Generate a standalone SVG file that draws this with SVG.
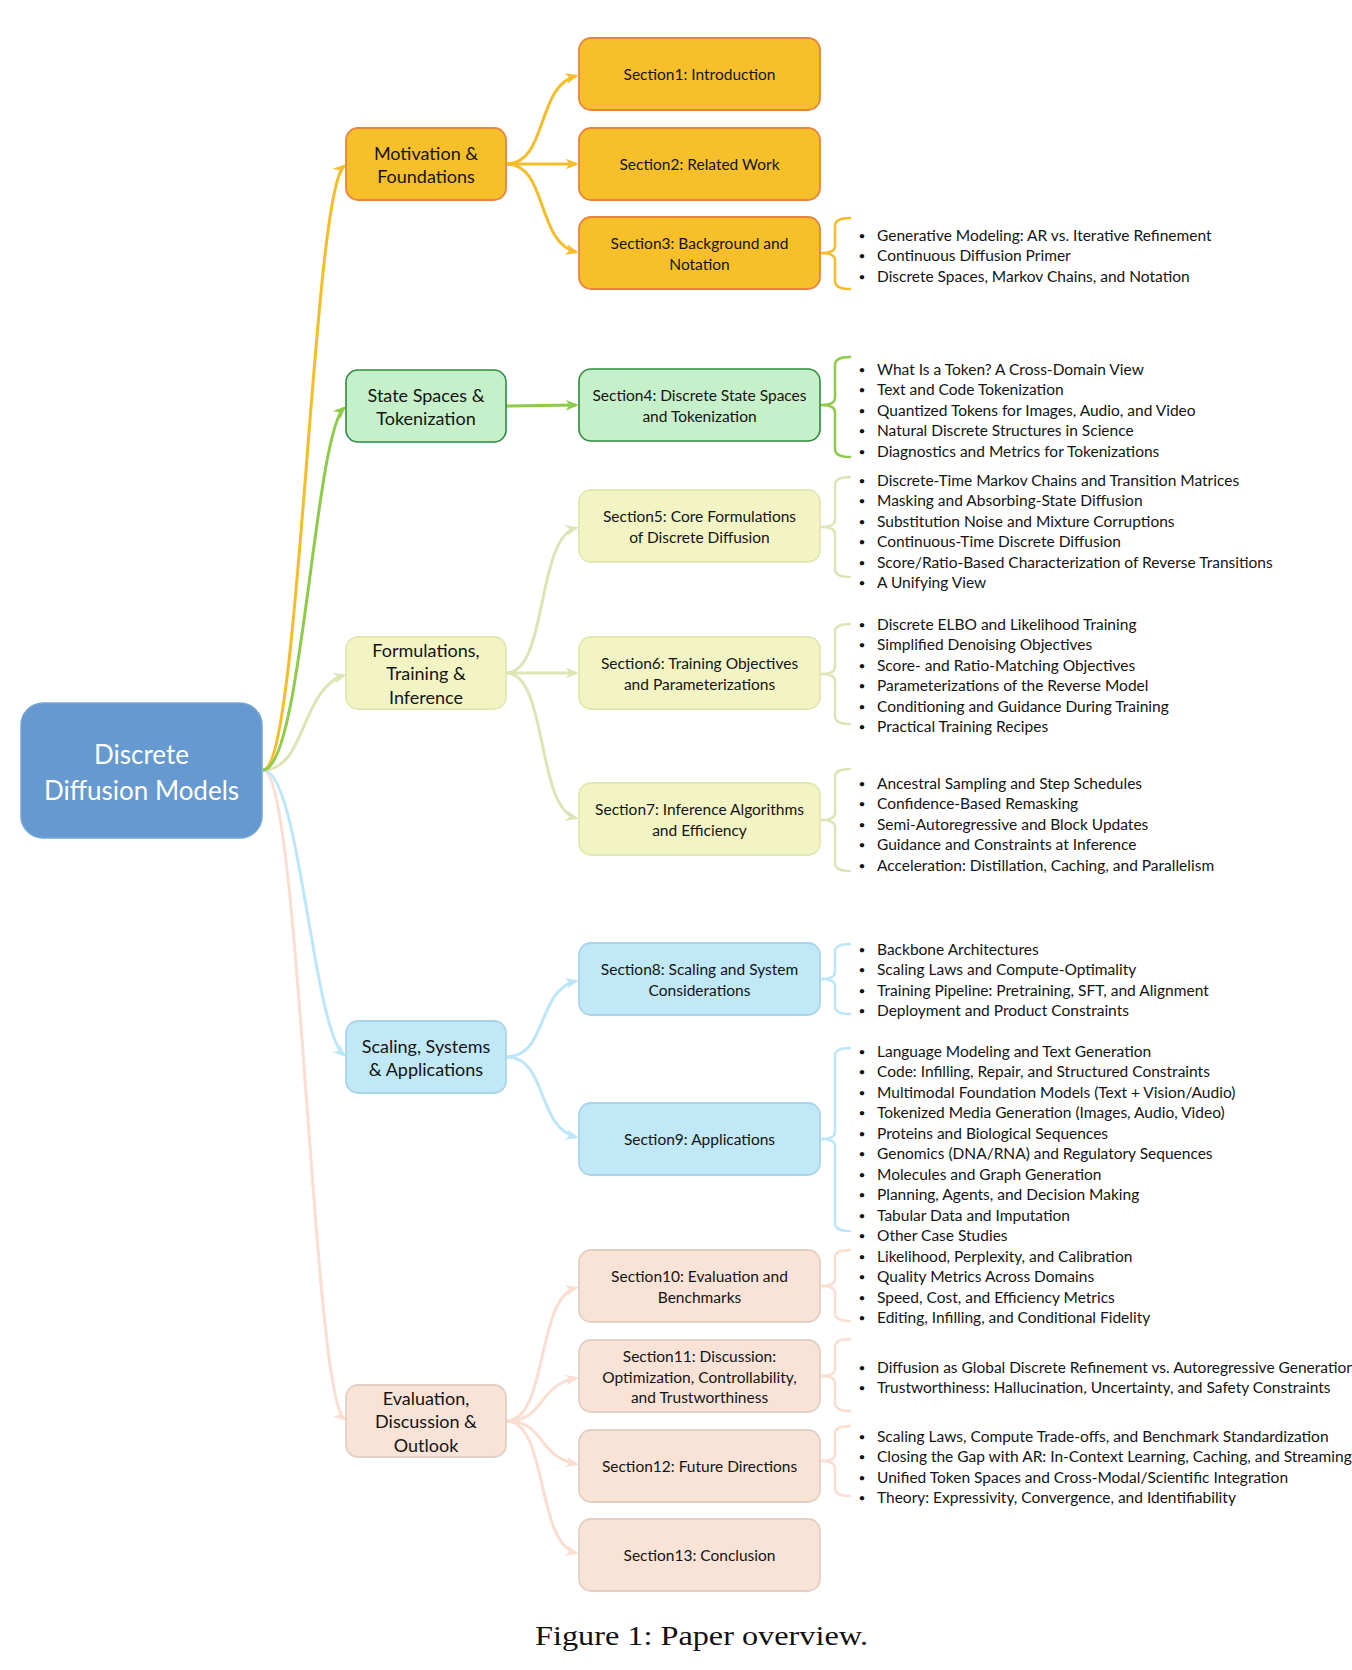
<svg xmlns="http://www.w3.org/2000/svg" width="1352" height="1670" viewBox="0 0 1352 1670">
<style>
text{font-family:Lato,"Open Sans","DejaVu Sans",sans-serif;fill:#141414;dominant-baseline:central}
.root text{fill:#fff;font-size:26px;text-anchor:middle}
.l1 text{font-size:18px;text-anchor:middle}
.l2 text{font-size:15.5px;text-anchor:middle}
.items text{font-size:15.5px}
.items text.b{text-anchor:middle;font-size:12px}
.c{fill:none;stroke-width:3}
.br{fill:none;stroke-width:2.5;stroke-linecap:round;stroke-linejoin:round}
.or .box{fill:#F7C02B;stroke:#E8843C;stroke-width:1.8}
.gr .box{fill:#C6F0C9;stroke:#2E8A3D;stroke-width:1.6}
.ol .box{fill:#F2F5C3;stroke:#E2E8B0;stroke-width:1.8}
.bl .box{fill:#C0E8F7;stroke:#A9D5E8;stroke-width:1.8}
.pe .box{fill:#F9E3D7;stroke:#E3D0C5;stroke-width:1.8}
.caption{font-family:"Liberation Serif","Times New Roman",serif;font-size:28px;fill:#111;dominant-baseline:auto}
</style>
<defs>
<marker id="aO" viewBox="0 0 12 10" refX="9.5" refY="5" markerWidth="13" markerHeight="11" markerUnits="userSpaceOnUse" orient="auto"><path d="M0,0 L12,5 L0,10 L3.5,5 z" fill="#F6BD2B"/></marker>
<marker id="aG" viewBox="0 0 12 10" refX="9.5" refY="5" markerWidth="13" markerHeight="11" markerUnits="userSpaceOnUse" orient="auto"><path d="M0,0 L12,5 L0,10 L3.5,5 z" fill="#8DCB48"/></marker>
<marker id="aL" viewBox="0 0 12 10" refX="9.5" refY="5" markerWidth="13" markerHeight="11" markerUnits="userSpaceOnUse" orient="auto"><path d="M0,0 L12,5 L0,10 L3.5,5 z" fill="#DFE4B6"/></marker>
<marker id="aB" viewBox="0 0 12 10" refX="9.5" refY="5" markerWidth="13" markerHeight="11" markerUnits="userSpaceOnUse" orient="auto"><path d="M0,0 L12,5 L0,10 L3.5,5 z" fill="#BDE7F8"/></marker>
<marker id="aP" viewBox="0 0 12 10" refX="9.5" refY="5" markerWidth="13" markerHeight="11" markerUnits="userSpaceOnUse" orient="auto"><path d="M0,0 L12,5 L0,10 L3.5,5 z" fill="#F9DED1"/></marker>
</defs>
<rect width="1352" height="1670" fill="#fff"/>

<g id="connectors">
<path class="c" stroke="#F9DED1" marker-end="url(#aP)" d="M263,770 C300,770 312,1391 344,1419"/>
<path class="c" stroke="#BDE7F8" marker-end="url(#aB)" d="M263,770 C300,770 312,1027 344,1055"/>
<path class="c" stroke="#DFE4B6" marker-end="url(#aL)" d="M263,770 C306,770 300,690 344,675"/>
<path class="c" stroke="#F6BD2B" marker-end="url(#aO)" d="M263,770 C300,770 312,194 344,166"/>
<path class="c" stroke="#8DCB48" marker-end="url(#aG)" d="M263,770 C302,770 314,436 344,408"/>

<path class="c" stroke="#F6BD2B" marker-end="url(#aO)" d="M506,164 C548,164 536,86 576,76"/>
<path class="c" stroke="#F6BD2B" marker-end="url(#aO)" d="M506,164 L576,164"/>
<path class="c" stroke="#F6BD2B" marker-end="url(#aO)" d="M506,164 C548,164 536,242 576,252"/>
<path class="c" stroke="#8DCB48" marker-end="url(#aG)" d="M506,406 L576,405"/>
<path class="c" stroke="#DFE4B6" marker-end="url(#aL)" d="M506,673 C548,673 536,538 576,528"/>
<path class="c" stroke="#DFE4B6" marker-end="url(#aL)" d="M506,673 L576,673"/>
<path class="c" stroke="#DFE4B6" marker-end="url(#aL)" d="M506,673 C548,673 536,808 576,818"/>
<path class="c" stroke="#BDE7F8" marker-end="url(#aB)" d="M506,1057 C548,1057 536,991 576,981"/>
<path class="c" stroke="#BDE7F8" marker-end="url(#aB)" d="M506,1057 C548,1057 536,1127 576,1137"/>
<path class="c" stroke="#F9DED1" marker-end="url(#aP)" d="M506,1421 C548,1421 536,1298 576,1288"/>
<path class="c" stroke="#F9DED1" marker-end="url(#aP)" d="M506,1421 C546,1421 536,1386 576,1378"/>
<path class="c" stroke="#F9DED1" marker-end="url(#aP)" d="M506,1421 C546,1421 536,1456 576,1464"/>
<path class="c" stroke="#F9DED1" marker-end="url(#aP)" d="M506,1421 C548,1421 536,1543 576,1553"/>

<path class="br" stroke="#F6BD2B" d="M850,218 Q835,218 835,226 L835,246 Q835,253 821,253 Q835,253 835,260 L835,281 Q835,289 850,289"/>
<path class="br" stroke="#8DCB48" d="M850,357 Q835,357 835,365 L835,398 Q835,405 821,405 Q835,405 835,412 L835,449 Q835,457 850,457"/>
<path class="br" stroke="#DFE4B6" d="M850,477 Q835,477 835,485 L835,520 Q835,527 821,527 Q835,527 835,534 L835,569 Q835,577 850,577"/>
<path class="br" stroke="#DFE4B6" d="M850,624 Q835,624 835,632 L835,667 Q835,674 821,674 Q835,674 835,681 L835,716 Q835,724 850,724"/>
<path class="br" stroke="#DFE4B6" d="M850,769 Q835,769 835,777 L835,813 Q835,820 821,820 Q835,820 835,827 L835,863 Q835,871 850,871"/>
<path class="br" stroke="#BDE7F8" d="M850,944 Q835,944 835,952 L835,972 Q835,979 821,979 Q835,979 835,986 L835,1006 Q835,1014 850,1014"/>
<path class="br" stroke="#BDE7F8" d="M850,1048 Q835,1048 835,1056 L835,1132 Q835,1139 821,1139 Q835,1139 835,1146 L835,1223 Q835,1231 850,1231"/>
<path class="br" stroke="#F9DED1" d="M850,1250 Q835,1250 835,1258 L835,1279 Q835,1286 821,1286 Q835,1286 835,1293 L835,1313 Q835,1321 850,1321"/>
<path class="br" stroke="#F9DED1" d="M850,1339 Q835,1339 835,1347 L835,1369 Q835,1376 821,1376 Q835,1376 835,1383 L835,1403 Q835,1411 850,1411"/>
<path class="br" stroke="#F9DED1" d="M850,1426 Q835,1426 835,1434 L835,1454 Q835,1461 821,1461 Q835,1461 835,1468 L835,1488 Q835,1496 850,1496"/>
</g>

<g id="root" class="root">
<rect x="21" y="703" width="241" height="135" rx="22" fill="#6699CF" stroke="#76A5D6" stroke-width="1.5"/>
<text x="141.5" y="754">Discrete</text>
<text x="141.5" y="790">Diffusion Models</text>
</g>

<g id="motivation" class="l1 or"><rect class="box" x="346" y="128" width="160" height="72" rx="12"/><text x="426" y="153">Motivation &amp;</text><text x="426" y="176">Foundations</text></g>
<g id="statespaces" class="l1 gr"><rect class="box" x="346" y="370" width="160" height="72" rx="12"/><text x="426" y="395">State Spaces &amp;</text><text x="426" y="418">Tokenization</text></g>
<g id="formulations" class="l1 ol"><rect class="box" x="346" y="637" width="160" height="72" rx="12"/><text x="426" y="650">Formulations,</text><text x="426" y="673">Training &amp;</text><text x="426" y="697">Inference</text></g>
<g id="scaling" class="l1 bl"><rect class="box" x="346" y="1021" width="160" height="72" rx="12"/><text x="426" y="1046">Scaling, Systems</text><text x="426" y="1069">&amp; Applications</text></g>
<g id="evaluation" class="l1 pe"><rect class="box" x="346" y="1385" width="160" height="72" rx="12"/><text x="426" y="1398">Evaluation,</text><text x="426" y="1421">Discussion &amp;</text><text x="426" y="1445">Outlook</text></g>

<g id="s1" class="l2 or"><rect class="box" x="579" y="38" width="241" height="72" rx="12"/><text x="699.5" y="74">Section1: Introduction</text></g>
<g id="s2" class="l2 or"><rect class="box" x="579" y="128" width="241" height="72" rx="12"/><text x="699.5" y="164">Section2: Related Work</text></g>
<g id="s3" class="l2 or"><rect class="box" x="579" y="217" width="241" height="72" rx="12"/><text x="699.5" y="243">Section3: Background and</text><text x="699.5" y="264">Notation</text></g>
<g id="s4" class="l2 gr"><rect class="box" x="579" y="369" width="241" height="72" rx="12"/><text x="699.5" y="395">Section4: Discrete State Spaces</text><text x="699.5" y="416">and Tokenization</text></g>
<g id="s5" class="l2 ol"><rect class="box" x="579" y="490" width="241" height="72" rx="12"/><text x="699.5" y="516">Section5: Core Formulations</text><text x="699.5" y="537">of Discrete Diffusion</text></g>
<g id="s6" class="l2 ol"><rect class="box" x="579" y="637" width="241" height="72" rx="12"/><text x="699.5" y="663">Section6: Training Objectives</text><text x="699.5" y="684">and Parameterizations</text></g>
<g id="s7" class="l2 ol"><rect class="box" x="579" y="783" width="241" height="72" rx="12"/><text x="699.5" y="809">Section7: Inference Algorithms</text><text x="699.5" y="830">and Efficiency</text></g>
<g id="s8" class="l2 bl"><rect class="box" x="579" y="943" width="241" height="72" rx="12"/><text x="699.5" y="969">Section8: Scaling and System</text><text x="699.5" y="990">Considerations</text></g>
<g id="s9" class="l2 bl"><rect class="box" x="579" y="1103" width="241" height="72" rx="12"/><text x="699.5" y="1139">Section9: Applications</text></g>
<g id="s10" class="l2 pe"><rect class="box" x="579" y="1250" width="241" height="72" rx="12"/><text x="699.5" y="1276">Section10: Evaluation and</text><text x="699.5" y="1297">Benchmarks</text></g>
<g id="s11" class="l2 pe"><rect class="box" x="579" y="1340" width="241" height="72" rx="12"/><text x="699.5" y="1356">Section11: Discussion:</text><text x="699.5" y="1377">Optimization, Controllability,</text><text x="699.5" y="1397">and Trustworthiness</text></g>
<g id="s12" class="l2 pe"><rect class="box" x="579" y="1430" width="241" height="72" rx="12"/><text x="699.5" y="1466">Section12: Future Directions</text></g>
<g id="s13" class="l2 pe"><rect class="box" x="579" y="1519" width="241" height="72" rx="12"/><text x="699.5" y="1555">Section13: Conclusion</text></g>

<g id="s3-items" class="items">
<text class="b" x="862" y="235">•</text><text x="877" y="234.5">Generative Modeling: AR vs. Iterative Refinement</text>
<text class="b" x="862" y="255.5">•</text><text x="877" y="255">Continuous Diffusion Primer</text>
<text class="b" x="862" y="276">•</text><text x="877" y="275.5">Discrete Spaces, Markov Chains, and Notation</text>
</g>
<g id="s4-items" class="items">
<text class="b" x="862" y="369">•</text><text x="877" y="368.5">What Is a Token? A Cross-Domain View</text>
<text class="b" x="862" y="389.5">•</text><text x="877" y="389">Text and Code Tokenization</text>
<text class="b" x="862" y="410">•</text><text x="877" y="409.5">Quantized Tokens for Images, Audio, and Video</text>
<text class="b" x="862" y="430.5">•</text><text x="877" y="430">Natural Discrete Structures in Science</text>
<text class="b" x="862" y="451">•</text><text x="877" y="450.5">Diagnostics and Metrics for Tokenizations</text>
</g>
<g id="s5-items" class="items">
<text class="b" x="862" y="480">•</text><text x="877" y="479.5">Discrete-Time Markov Chains and Transition Matrices</text>
<text class="b" x="862" y="500.5">•</text><text x="877" y="500">Masking and Absorbing-State Diffusion</text>
<text class="b" x="862" y="521">•</text><text x="877" y="520.5">Substitution Noise and Mixture Corruptions</text>
<text class="b" x="862" y="541.5">•</text><text x="877" y="541">Continuous-Time Discrete Diffusion</text>
<text class="b" x="862" y="562">•</text><text x="877" y="561.5">Score/Ratio-Based Characterization of Reverse Transitions</text>
<text class="b" x="862" y="582.5">•</text><text x="877" y="582">A Unifying View</text>
</g>
<g id="s6-items" class="items">
<text class="b" x="862" y="624">•</text><text x="877" y="623.5">Discrete ELBO and Likelihood Training</text>
<text class="b" x="862" y="644.5">•</text><text x="877" y="644">Simplified Denoising Objectives</text>
<text class="b" x="862" y="665">•</text><text x="877" y="664.5">Score- and Ratio-Matching Objectives</text>
<text class="b" x="862" y="685.5">•</text><text x="877" y="685">Parameterizations of the Reverse Model</text>
<text class="b" x="862" y="706">•</text><text x="877" y="705.5">Conditioning and Guidance During Training</text>
<text class="b" x="862" y="726.5">•</text><text x="877" y="726">Practical Training Recipes</text>
</g>
<g id="s7-items" class="items">
<text class="b" x="862" y="783">•</text><text x="877" y="782.5">Ancestral Sampling and Step Schedules</text>
<text class="b" x="862" y="803.5">•</text><text x="877" y="803">Confidence-Based Remasking</text>
<text class="b" x="862" y="824">•</text><text x="877" y="823.5">Semi-Autoregressive and Block Updates</text>
<text class="b" x="862" y="844.5">•</text><text x="877" y="844">Guidance and Constraints at Inference</text>
<text class="b" x="862" y="865">•</text><text x="877" y="864.5">Acceleration: Distillation, Caching, and Parallelism</text>
</g>
<g id="s8-items" class="items">
<text class="b" x="862" y="949">•</text><text x="877" y="948.5">Backbone Architectures</text>
<text class="b" x="862" y="969.5">•</text><text x="877" y="969">Scaling Laws and Compute-Optimality</text>
<text class="b" x="862" y="990">•</text><text x="877" y="989.5">Training Pipeline: Pretraining, SFT, and Alignment</text>
<text class="b" x="862" y="1010.5">•</text><text x="877" y="1010">Deployment and Product Constraints</text>
</g>
<g id="s9-items" class="items">
<text class="b" x="862" y="1051">•</text><text x="877" y="1050.5">Language Modeling and Text Generation</text>
<text class="b" x="862" y="1071.5">•</text><text x="877" y="1071">Code: Infilling, Repair, and Structured Constraints</text>
<text class="b" x="862" y="1092">•</text><text x="877" y="1091.5">Multimodal Foundation Models (Text + Vision/Audio)</text>
<text class="b" x="862" y="1112.5">•</text><text x="877" y="1112">Tokenized Media Generation (Images, Audio, Video)</text>
<text class="b" x="862" y="1133">•</text><text x="877" y="1132.5">Proteins and Biological Sequences</text>
<text class="b" x="862" y="1153.5">•</text><text x="877" y="1153">Genomics (DNA/RNA) and Regulatory Sequences</text>
<text class="b" x="862" y="1174">•</text><text x="877" y="1173.5">Molecules and Graph Generation</text>
<text class="b" x="862" y="1194.5">•</text><text x="877" y="1194">Planning, Agents, and Decision Making</text>
<text class="b" x="862" y="1215">•</text><text x="877" y="1214.5">Tabular Data and Imputation</text>
<text class="b" x="862" y="1235.5">•</text><text x="877" y="1235">Other Case Studies</text>
</g>
<g id="s10-items" class="items">
<text class="b" x="862" y="1256">•</text><text x="877" y="1255.5">Likelihood, Perplexity, and Calibration</text>
<text class="b" x="862" y="1276.5">•</text><text x="877" y="1276">Quality Metrics Across Domains</text>
<text class="b" x="862" y="1297">•</text><text x="877" y="1296.5">Speed, Cost, and Efficiency Metrics</text>
<text class="b" x="862" y="1317.5">•</text><text x="877" y="1317">Editing, Infilling, and Conditional Fidelity</text>
</g>
<g id="s11-items" class="items">
<text class="b" x="862" y="1367">•</text><text x="877" y="1366.5">Diffusion as Global Discrete Refinement vs. Autoregressive Generation</text>
<text class="b" x="862" y="1387.5">•</text><text x="877" y="1387">Trustworthiness: Hallucination, Uncertainty, and Safety Constraints</text>
</g>
<g id="s12-items" class="items">
<text class="b" x="862" y="1436">•</text><text x="877" y="1435.5">Scaling Laws, Compute Trade-offs, and Benchmark Standardization</text>
<text class="b" x="862" y="1456.5">•</text><text x="877" y="1456">Closing the Gap with AR: In-Context Learning, Caching, and Streaming</text>
<text class="b" x="862" y="1477">•</text><text x="877" y="1476.5">Unified Token Spaces and Cross-Modal/Scientific Integration</text>
<text class="b" x="862" y="1497.5">•</text><text x="877" y="1497">Theory: Expressivity, Convergence, and Identifiability</text>
</g>

<text class="caption" x="535" y="1645" textLength="333" lengthAdjust="spacingAndGlyphs">Figure 1: Paper overview.</text>
</svg>
